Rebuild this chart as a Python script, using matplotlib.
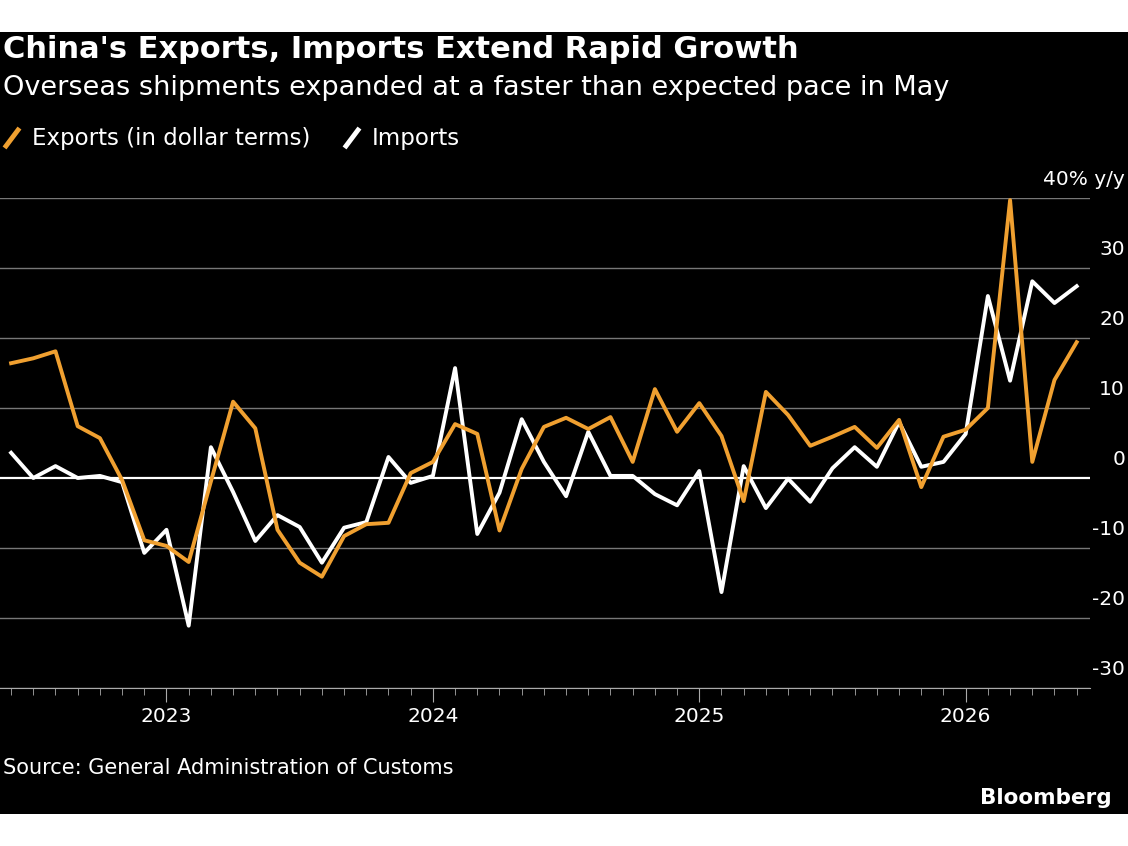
import matplotlib.pyplot as plt
from matplotlib.patches import Rectangle
import matplotlib.transforms as mtransforms

# monthly data, Jun 2022 .. Jun 2026 (% y/y)
exports = [16.4, 17.1, 18.1, 7.4, 5.7, -0.3, -8.9, -9.7, -12.0, -0.5,
           10.9, 7.1, -7.4, -12.1, -14.1, -8.3, -6.6, -6.4, 0.7, 2.3,
           7.7, 6.3, -7.5, 1.3, 7.3, 8.6, 7.0, 8.7, 2.3, 12.7,
           6.6, 10.7, 6.0, -3.3, 12.3, 9.0, 4.6, 5.9, 7.3, 4.3,
           8.3, -1.3, 5.9, 6.9, 10.0, 39.7, 2.3, 14.0, 19.4]
imports = [3.6, 0.0, 1.7, 0.0, 0.3, -0.6, -10.7, -7.4, -21.1, 4.4,
           -2.0, -9.0, -5.3, -7.0, -12.1, -7.1, -6.3, 3.0, -0.7, 0.3,
           15.7, -8.0, -2.1, 8.4, 2.3, -2.6, 6.6, 0.3, 0.3, -2.3,
           -3.9, 1.0, -16.3, 1.7, -4.3, -0.1, -3.4, 1.4, 4.4, 1.6,
           8.0, 1.6, 2.3, 6.3, 26.0, 13.9, 28.1, 25.0, 27.4]
years = ['2023', '2024', '2025', '2026']
year_pos = [7, 19, 31, 43]  # month index of January
yticks = [-30, -20, -10, 0, 10, 20, 30, 40]

orange = '#f0a030'
fig = plt.figure(figsize=(11.28, 8.46), dpi=100, facecolor='white')
fig.patches.append(Rectangle((0, 32 / 846), 1, (814 - 32) / 846, transform=fig.transFigure,
                             facecolor='black', zorder=-10))

ax = fig.add_axes([0, 1 - 688 / 846, 1090 / 1128, (688 - 198) / 846])
ax.set_facecolor('black')
x = list(range(len(exports)))
ax.plot(x, imports, color='white', lw=2.8, zorder=3)
ax.plot(x, exports, color=orange, lw=2.8, zorder=4)
ax.set_xlim(-0.5, 48.6)
ax.set_ylim(-30, 40)

trans = mtransforms.blended_transform_factory(ax.transAxes, ax.transData)
for v in yticks:
    ax.axhline(v, color='white' if v == 0 else '#777777', lw=1.6 if v == 0 else 1.0, zorder=1)
    lab = '40% y/y' if v == 40 else str(v)
    ax.text(1.0 + 35 / 1090, v + 1.3, lab, transform=trans,
            ha='right', va='bottom', color='white', fontsize=14.5)

for s in ['top', 'right', 'left']:
    ax.spines[s].set_visible(False)
ax.spines['bottom'].set_color('#aaaaaa')
ax.set_yticks([])
ax.set_xticks(range(0, 49), minor=True)
ax.set_xticks(year_pos)
ax.set_xticklabels(years)
ax.tick_params(axis='x', which='major', colors='#aaaaaa', length=10, labelcolor='white', labelsize=14.5, pad=4)
ax.tick_params(axis='x', which='minor', colors='#aaaaaa', length=5)

fig.text(3 / 1128, 1 - 50 / 846, "China's Exports, Imports Extend Rapid Growth", color='white',
         fontsize=22, fontweight='bold', va='center')
fig.text(3 / 1128, 1 - 88 / 846, "Overseas shipments expanded at a faster than expected pace in May", color='white',
         fontsize=19.5, va='center')

# legend: slanted strokes + labels
legend_items = [(6, 'Exports (in dollar terms)', orange, 32), (346, 'Imports', 'white', 372)]
for x0, name, c, tx in legend_items:
    fig.add_artist(plt.Line2D([x0 / 1128, (x0 + 12) / 1128], [1 - 146 / 846, 1 - 130 / 846],
                              color=c, lw=3.5, transform=fig.transFigure))
    fig.text(tx / 1128, 1 - 138 / 846, name, color='white', fontsize=16.5, va='center')

fig.text(3 / 1128, 1 - 768 / 846, "Source: General Administration of Customs", color='white', fontsize=15, va='center')
fig.text(1112 / 1128, 1 - 798 / 846, "Bloomberg", color='white', fontsize=15.5, fontweight='bold',
         va='center', ha='right')

fig.savefig('out.png', dpi=100, facecolor='white')
